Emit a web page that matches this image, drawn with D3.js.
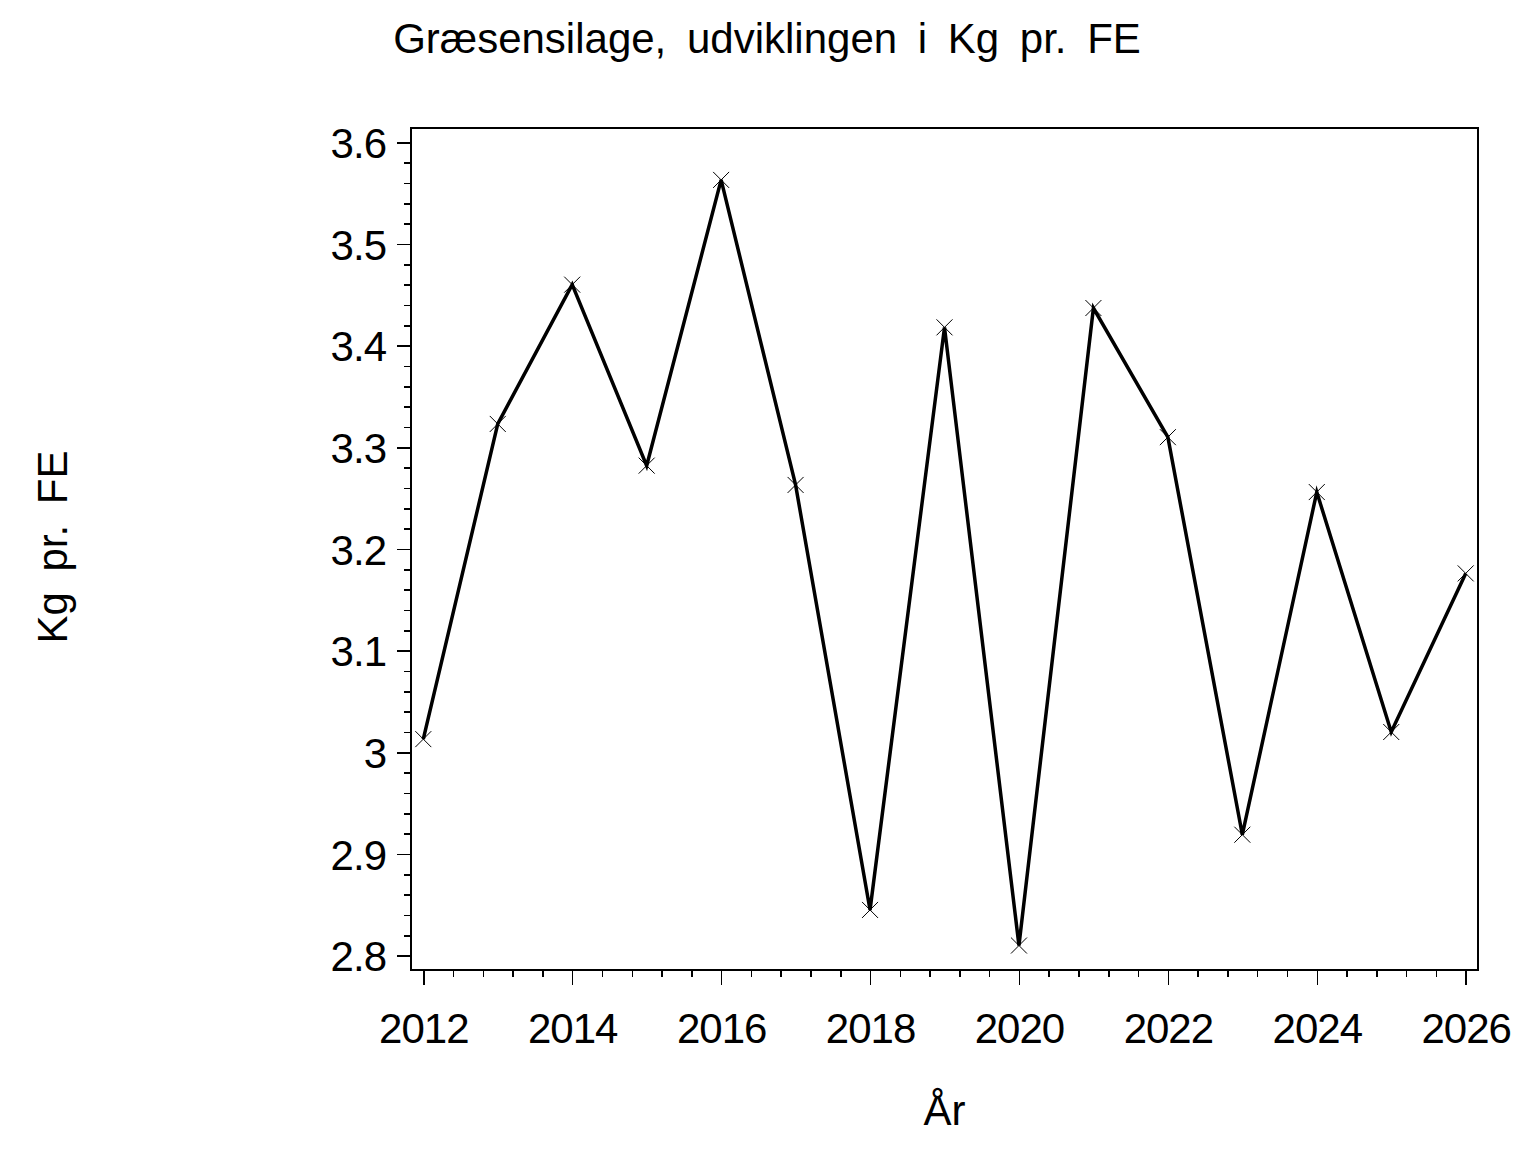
<!DOCTYPE html>
<head>
  <meta charset="utf-8">
  <style>
    body { margin: 0; background: #fff; }
    text { font-family: "Liberation Sans", Arial, sans-serif; fill: #000; }
    .axis line { stroke: #000; stroke-width: 1.5; shape-rendering: crispEdges; }
    .axis path { display: none; }
    .axis text { font-size: 42px; letter-spacing: -1px; }
  </style>
  <script src="https://d3js.org/d3.v7.min.js"></script>
</head>
<body>
  <script>
    // values
    var years  = [2012, 2013, 2014, 2015, 2016, 2017, 2018, 2019, 2020, 2021, 2022, 2023, 2024, 2025, 2026];
    var kgPrFE = [3.013, 3.323, 3.460, 3.282, 3.563, 3.263, 2.845, 3.418, 2.810, 3.437, 3.310, 2.919, 3.256, 3.020, 3.176];

    var xTicks = [2012, 2014, 2016, 2018, 2020, 2022, 2024, 2026];
    var yTicks = [2.8, 2.9, 3, 3.1, 3.2, 3.3, 3.4, 3.5, 3.6];

    var w = 1536, h = 1152;

    // plot frame
    var frameL = 411, frameR = 1478, frameT = 128, frameB = 970;

    var xScale = d3.scaleLinear()
                   .domain([2012, 2026])
                   .range([423.3, 1465.7]);

    var yScale = d3.scaleLinear()
                   .domain([2.8, 3.6])
                   .range([955.7, 142.3]);

    var svg = d3.select("body")
                .append("svg")
                .attr("width", w)
                .attr("height", h);

    // frame
    svg.append("rect")
       .attr("x", frameL)
       .attr("y", frameT)
       .attr("width", frameR - frameL)
       .attr("height", frameB - frameT)
       .attr("fill", "none")
       .attr("stroke", "#000")
       .attr("stroke-width", 1.5)
       .attr("shape-rendering", "crispEdges");

    // minor ticks (5 subdivisions between majors)
    var yMinor = d3.range(0, 41).map(function(i) { return 2.8 + i * 0.02; });
    var xMinor = d3.range(0, 36).map(function(i) { return 2012 + i * 0.4; });

    svg.append("g")
       .attr("class", "axis")
       .attr("transform", "translate(" + frameL + ",0)")
       .call(d3.axisLeft(yScale).tickValues(yMinor).tickSize(7).tickFormat(""));

    svg.append("g")
       .attr("class", "axis")
       .attr("transform", "translate(0," + frameB + ")")
       .call(d3.axisBottom(xScale).tickValues(xMinor).tickSize(7).tickFormat(""));

    // major ticks
    var yAxis = svg.append("g")
       .attr("class", "axis")
       .attr("transform", "translate(" + frameL + ",0)")
       .call(d3.axisLeft(yScale).tickValues(yTicks).tickSize(14).tickPadding(11)
               .tickFormat(function(d) { return String(d); }));
    yAxis.selectAll("text").attr("dy", "0.36em");

    var xAxis = svg.append("g")
       .attr("class", "axis")
       .attr("transform", "translate(0," + frameB + ")")
       .call(d3.axisBottom(xScale).tickValues(xTicks).tickSize(15).tickPadding(0)
               .tickFormat(d3.format("d")));
    xAxis.selectAll("text").attr("y", 73).attr("dy", null);

    // line
    var line = d3.line()
                 .x(function(d, i) { return xScale(years[i]); })
                 .y(function(d) { return yScale(d); });

    svg.append("path")
       .datum(kgPrFE)
       .attr("d", line)
       .attr("fill", "none")
       .attr("stroke", "#000")
       .attr("stroke-width", 3.5)
       .attr("stroke-linejoin", "miter");

    // x markers
    var m = 8;
    svg.selectAll("path.marker")
       .data(kgPrFE)
       .enter()
       .append("path")
       .attr("class", "marker")
       .attr("d", function(d, i) {
         var x = xScale(years[i]), y = yScale(d);
         return "M" + (x - m) + "," + (y - m) + "L" + (x + m) + "," + (y + m) +
                "M" + (x - m) + "," + (y + m) + "L" + (x + m) + "," + (y - m);
       })
       .attr("fill", "none")
       .attr("stroke", "#000")
       .attr("stroke-width", 1);

    // title and axis labels
    svg.append("text")
       .attr("x", 767)
       .attr("y", 53)
       .attr("text-anchor", "middle")
       .attr("font-size", "42px")
       .attr("word-spacing", "9px")
       .text("Græsensilage, udviklingen i Kg pr. FE");

    svg.append("text")
       .attr("x", (frameL + frameR) / 2)
       .attr("y", 1125)
       .attr("text-anchor", "middle")
       .attr("font-size", "42px")
       .text("År");

    svg.append("text")
       .attr("transform", "translate(67," + ((frameT + frameB) / 2 - 2) + ") rotate(-90)")
       .attr("text-anchor", "middle")
       .attr("font-size", "42px")
       .attr("word-spacing", "9px")
       .text("Kg pr. FE");
  </script>
</body>
